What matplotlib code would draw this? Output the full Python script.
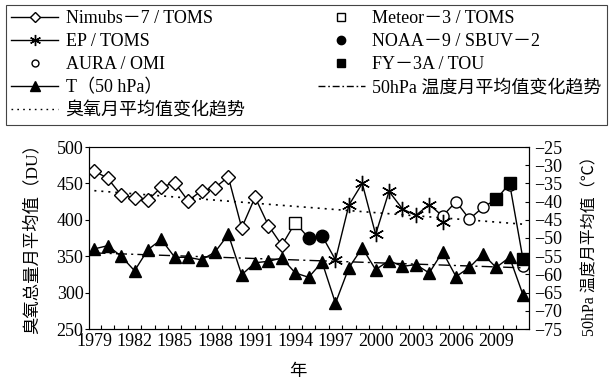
import matplotlib
matplotlib.use("Agg")
import matplotlib.pyplot as plt
from matplotlib.lines import Line2D
from matplotlib.ticker import FixedLocator, FuncFormatter

plt.rcParams['font.family'] = ['Liberation Serif', 'Noto Sans CJK SC']
plt.rcParams['axes.unicode_minus'] = True

# ---- data ----
nimbus_years = list(range(1979, 1994))
nimbus_vals = [467, 457, 434, 430, 427, 445, 451, 426, 440, 444, 459, 389, 431, 392, 365]
meteor_years = [1994]
meteor_vals = [396]
noaa_years = [1995, 1996]
noaa_vals = [375, 378]
ep_years = list(range(1997, 2006))
ep_vals = [345, 420, 450, 380, 439, 415, 406, 421, 397]
aura_years = list(range(2005, 2012))
aura_vals = [405, 425, 401, 417, 429, 448, 336]
fy_years = [2009, 2010, 2011]
fy_vals = [428, 450, 346]

temp_years = list(range(1979, 2012))
temp_vals = [-53.0, -52.1, -55.0, -59.0, -53.2, -50.4, -55.3, -55.3, -56.0, -53.9,
             -49.0, -60.1, -56.8, -56.4, -55.5, -59.6, -60.8, -56.6, -67.9, -58.2,
             -52.7, -58.7, -56.2, -57.8, -57.3, -59.6, -53.8, -60.6, -58.1, -54.4,
             -58.1, -55.3, -65.6]

trend_years = [1979, 2011]
ozone_trend = [440, 394]
temp_trend = [-54.1, -58.2]

xtick_labels = list(range(1979, 2012, 3))
left_ticks = [250, 300, 350, 400, 450, 500]
right_ticks = list(range(-75, -24, 5))

# ---- figure ----
fig = plt.figure(figsize=(6.09, 3.84), dpi=100)
ax = fig.add_axes([89/609, 1-329/384, 440/609, 182/384])
ax2 = ax.twinx()

# connecting line through the satellite record
line_x = nimbus_years + meteor_years + noaa_years + ep_years[:-1] + aura_years[:4] + fy_years
line_y = nimbus_vals + meteor_vals + noaa_vals + ep_vals[:-1] + aura_vals[:4] + fy_vals
ax.plot(line_x, line_y, color='black', lw=1.0, zorder=2)
ax.plot(trend_years, ozone_trend, color='black', lw=1.2, ls=(0, (1.2, 3)), zorder=1)

ax.plot(aura_years, aura_vals, ls='none', marker='o', ms=8, mfc='white', mec='black', mew=1.0, zorder=3)
ax.plot(nimbus_years, nimbus_vals, ls='none', marker='D', ms=7, mfc='white', mec='black', mew=1.0, zorder=4)
ax.plot(meteor_years, meteor_vals, ls='none', marker='s', ms=9, mfc='white', mec='black', mew=1.0, zorder=4)
ax.plot(noaa_years, noaa_vals, ls='none', marker='o', ms=9, mfc='black', mec='black', zorder=4)
ax.plot(ep_years, ep_vals, ls='none', marker=(6, 2, 0), ms=11, mec='black', mew=1.0, zorder=4)
ax.plot(fy_years, fy_vals, ls='none', marker='s', ms=9, mfc='black', mec='black', zorder=5)

ax2.plot(temp_years, temp_vals, color='black', lw=1.0, marker='^', ms=8, mfc='black', mec='black', zorder=3)
ax2.plot(trend_years, temp_trend, color='black', lw=1.0, ls=(0, (8, 3, 1.5, 3)), zorder=2)

ax.set_xlim(1978.6, 2011.45)
ax.set_ylim(250, 500)
ax2.set_ylim(-75, -25)

ax.set_xticks(xtick_labels)
ax.set_xticklabels([str(y) for y in xtick_labels])
ax.xaxis.set_minor_locator(FixedLocator([y + 0.5 for y in range(1978, 2011)]))
ax.tick_params(axis='x', which='major', length=0, labelsize=13, pad=3)
ax.tick_params(axis='x', which='minor', direction='in', length=3, width=0.8)
ax.set_yticks(left_ticks)
ax.tick_params(axis='y', direction='out', length=3, width=0.8, labelsize=13, pad=1)
ax2.set_yticks(right_ticks)
ax2.yaxis.set_major_formatter(FuncFormatter(lambda v, p: '\u2212' + str(int(abs(v)))))
ax2.tick_params(axis='y', direction='in', length=3, width=0.8, labelsize=13, pad=4)

for a in (ax, ax2):
    for s in a.spines.values():
        s.set_linewidth(0.8)
ax.spines['top'].set_color('#777777')

fig.text(32/609, 1-235/384, '臭氧总量月平均值（DU）', rotation=90, ha='center', va='center', fontsize=12.5)
fig.text(590/609, 1-242/384, '50hPa 温度月平均值（℃）', rotation=90, ha='center', va='center', fontsize=11.5)
fig.text(298/609, 1-372/384, '年', ha='center', va='center', fontsize=12.5)

handles = [
    Line2D([], [], color='black', lw=1, marker='D', ms=5, mfc='white', mec='black'),
    Line2D([], [], color='black', lw=1, marker=(6, 2, 0), ms=8, mec='black'),
    Line2D([], [], ls='none', marker='o', ms=5, mfc='white', mec='black'),
    Line2D([], [], color='black', lw=1, marker='^', ms=7, mfc='black', mec='black'),
    Line2D([], [], color='black', lw=1, ls=(0, (1.2, 3))),
    Line2D([], [], ls='none', marker='s', ms=6, mfc='white', mec='black'),
    Line2D([], [], ls='none', marker='o', ms=6, mfc='black', mec='black'),
    Line2D([], [], ls='none', marker='s', ms=6, mfc='black', mec='black'),
    Line2D([], [], color='black', lw=1, ls=(0, (5, 2, 1.2, 2))),
]
labels = ['Nimubs－7 / TOMS', 'EP / TOMS', 'AURA / OMI', 'T（50 hPa）', '臭氧月平均值变化趋势',
          'Meteor－3 / TOMS', 'NOAA－9 / SBUV－2', 'FY－3A / TOU', '50hPa 温度月平均值变化趋势']
leg = fig.legend(handles, labels, ncol=2, loc='upper left',
                 bbox_to_anchor=(6/609, 1-5/384),
                 fontsize=13, frameon=True, fancybox=False, framealpha=1,
                 edgecolor='#444444', handlelength=2.6, handletextpad=0.4,
                 columnspacing=4.0, labelspacing=0.33, borderpad=0.3, borderaxespad=0)
leg.get_frame().set_linewidth(0.8)

fig.savefig('out.png', dpi=100)
